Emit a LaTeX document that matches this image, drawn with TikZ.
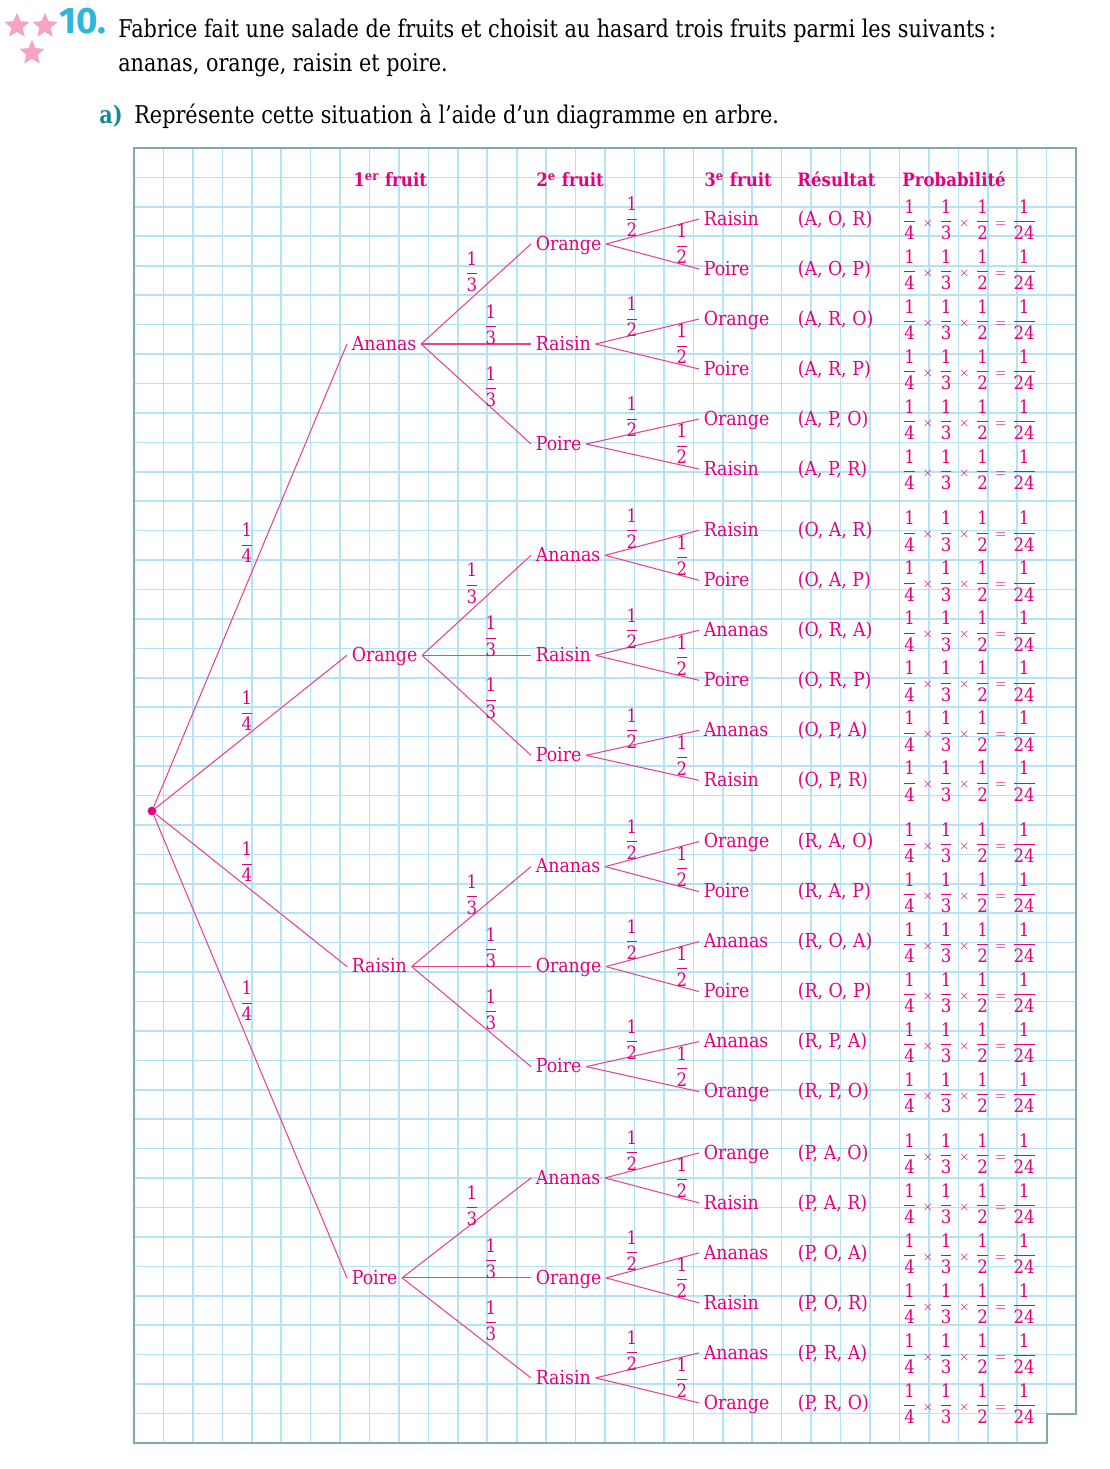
\documentclass[tikz,border=0pt]{standalone}
\usepackage{amsmath}
\usepackage{fontspec}
\setmainfont[FakeStretch=0.9]{DejaVu Serif}
\setsansfont{Fira Sans}
\newfontfamily\introfont[FakeStretch=0.85]{DejaVu Serif}
\usetikzlibrary{shapes.geometric, positioning}

\definecolor{fuchsia}{HTML}{E4007C}
\definecolor{branchpink}{HTML}{E8438F}
\definecolor{gridblue}{HTML}{B5E3F6}
\definecolor{framegray}{HTML}{7FAAB3}
\definecolor{numcyan}{HTML}{2DB7D9}
\definecolor{qteal}{HTML}{138B97}
\definecolor{starpink}{HTML}{F6A3C6}

\newcommand{\fr}[2]{\dfrac{\textrm{#1}}{\textrm{#2}}}
\newcommand{\tms}{\mkern5mu{\scriptstyle\times}\mkern5mu}
\newcommand{\eqs}{\mkern5mu{\scriptstyle=}\mkern5mu}

\begin{document}
\begin{tikzpicture}[
    x=0.02cm, y=-0.02cm,
    every node/.style={font=\fontsize{11}{13}\selectfont, text=fuchsia},
    fruit/.style={anchor=west, inner sep=2.5pt, text height=0.72em, text depth=0pt},
    head/.style={anchor=base west, inner sep=0pt, font=\fontsize{10.5}{12}\selectfont\bfseries},
    intro/.style={anchor=base west, inner sep=0pt, text=black, font=\fontsize{13.9}{16}\introfont},
    frac/.style={inner sep=0pt, font=\fontsize{10.5}{12}\selectfont},
    prob/.style={frac, anchor=west},
    branch/.style={draw=branchpink, line width=0.6pt},
    gridline/.style={draw=gridblue, line width=0.9pt},
    frame/.style={draw=framegray, line width=1pt},
    pinkstar/.style={star, star points=5, star point ratio=2.2, minimum size=15pt, inner sep=0pt, fill=starpink}
]
    \useasboundingbox (0,0) rectangle (1109,1469);

    % Header
    \node[pinkstar] (star1) at (17,26) {};
    \node[pinkstar] (star2) at (45,26) {};
    \node[pinkstar] (star3) at (32,53) {};
    \node[anchor=base west, inner sep=0pt, text=numcyan, font=\fontsize{21}{22}\sffamily\bfseries] (num) at (59,34) {10.};
    \node[intro] (intro1) at (118,38) {Fabrice fait une salade de fruits et choisit au hasard trois fruits parmi les suivants\,:};
    \node[intro] (intro2) at (118,72) {ananas, orange, raisin et poire.};
    \node[intro, text=qteal, font=\fontsize{13.9}{16}\introfont\bfseries] (qa) at (99,124) {a)};
    \node[intro] (qatext) at (134,124) {Représente cette situation à l’aide d’un diagramme en arbre.};

    % Squared paper
    \begin{scope}
        \clip (134,148) -- (1076,148) -- (1076,1414) -- (1047,1414) -- (1047,1443) -- (134,1443) -- cycle;
        \foreach \k in {0,...,32}
            \draw[gridline] (134+29.44*\k,148) -- (134+29.44*\k,1443);
        \foreach \k in {0,...,44}
            \draw[gridline] (134,148+29.43*\k) -- (1076,148+29.43*\k);
    \end{scope}
    \draw[frame] (134,148) -- (1076,148) -- (1076,1414) -- (1047,1414) -- (1047,1443) -- (134,1443) -- cycle;

    % Column headings
    \node[head] (h1) at (353,187) {1\textsuperscript{er} fruit};
    \node[head] (h2) at (536,187) {2\textsuperscript{e} fruit};
    \node[head] (h3) at (704,187) {3\textsuperscript{e} fruit};
    \node[head] (h4) at (797,187) {Résultat};
    \node[head] (h5) at (902,187) {Probabilité};

    % Tree
    \node[circle, fill=fuchsia, inner sep=0pt, minimum size=5pt] (root) at (152,811) {};

    \foreach \i/\ia/\iname/\qy in {0/A/Ananas/543, 1/O/Orange/711, 2/R/Raisin/862, 3/P/Poire/1001}{
        \pgfmathsetmacro{\yone}{344+311.3*\i}
        \node[fruit] (f\ia) at (347,\yone) {\iname};
        \draw[branch] (root) -- (f\ia.west);
        \node[frac] (q\ia) at (247,\qy) {$\fr{1}{4}$};
        \foreach \j/\ja/\jname in {0/A/Ananas, 1/O/Orange, 2/R/Raisin, 3/P/Poire}{
            \ifnum\i=\j\else
                \pgfmathtruncatemacro{\rj}{\j-(\i<\j)}
                \pgfmathsetmacro{\ytwo}{\yone-100+100*\rj}
                \pgfmathsetmacro{\qxtwo}{\rj==0 ? 472 : 491}
                \pgfmathsetmacro{\qytwo}{\yone+(\rj==0 ? -72 : (\rj==1 ? -19 : 43))}
                \node[fruit] (f\ia\ja) at (531,\ytwo) {\jname};
                \draw[branch] (f\ia.east) -- (f\ia\ja.west);
                \node[frac] (q\ia\ja) at (\qxtwo,\qytwo) {$\fr{1}{3}$};
                \foreach \k/\ka/\kname in {0/A/Ananas, 1/O/Orange, 2/R/Raisin, 3/P/Poire}{
                    \ifnum\k=\i\else\ifnum\k=\j\else
                        \pgfmathtruncatemacro{\rk}{\k-(\i<\k)-(\j<\k)}
                        \pgfmathsetmacro{\ythree}{\ytwo-25+50*\rk}
                        \pgfmathsetmacro{\qxthree}{\rk==0 ? 632 : 682}
                        \pgfmathsetmacro{\qythree}{\ytwo+(\rk==0 ? -27 : 0)}
                        \node[fruit] (f\ia\ja\ka) at (699,\ythree) {\kname};
                        \draw[branch] (f\ia\ja.east) -- (f\ia\ja\ka.west);
                        \node[frac] (q\ia\ja\ka) at (\qxthree,\qythree) {$\fr{1}{2}$};
                        % outcome and its probability
                        \node[fruit] (r\ia\ja\ka) at (793,\ythree) {(\ia, \ja, \ka)};
                        \node[prob] (p\ia\ja\ka) at (902,\ythree+1) {$\fr{1}{4}\tms\fr{1}{3}\tms\fr{1}{2}\eqs\fr{1}{24}$};
                    \fi\fi
                }
            \fi
        }
    }
\end{tikzpicture}
\end{document}
